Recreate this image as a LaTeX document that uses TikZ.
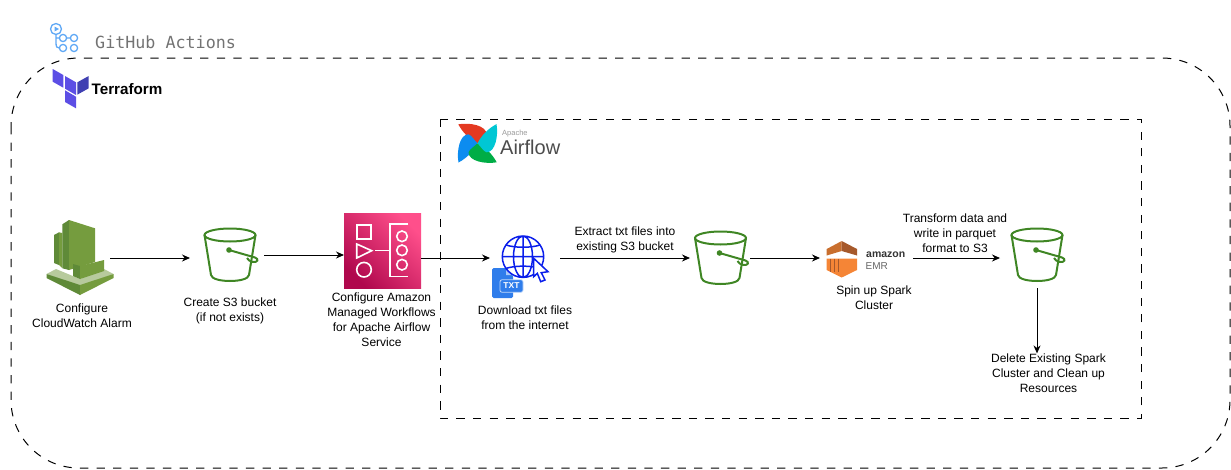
\documentclass[tikz,border=0pt]{standalone}
\usepackage{fontspec}
\setmainfont{Liberation Sans}
\newfontfamily\monofam{DejaVu Sans Mono}
\usetikzlibrary{arrows.meta,positioning,calc}

\definecolor{bucketgreen}{HTML}{3F8624}
\definecolor{globeblue}{HTML}{0A1EEB}
\definecolor{docblue}{HTML}{2F7DEB}
\definecolor{gitblue}{HTML}{5FA8F5}
\definecolor{tfpurple}{HTML}{5C4EE5}
\definecolor{tfdark}{HTML}{4040B2}
\definecolor{cwdark}{HTML}{5F8A38}
\definecolor{cwmid}{HTML}{759C3E}
\definecolor{cwlight}{HTML}{B7CA9D}
\definecolor{emrorange}{HTML}{F58536}
\definecolor{emrbrown}{HTML}{A6592B}
\definecolor{emrmid}{HTML}{C96F2E}
\definecolor{afred}{HTML}{E43921}
\definecolor{afteal}{HTML}{00C7D4}
\definecolor{afgreen}{HTML}{00AD46}
\definecolor{afblue}{HTML}{0C8CF0}
\definecolor{mwaalow}{HTML}{B0084D}
\definecolor{mwaahigh}{HTML}{FF4F8B}

\tikzset{
  flow/.style={-{Stealth[length=8pt,width=7pt]},line width=1pt},
  lbl/.style={align=center,inner sep=0pt,font=\fontsize{12}{15}\selectfont},
  iconbox/.style={inner sep=0pt,outer sep=0pt},
  region/.style={dash pattern=on 8.3pt off 8.3pt,line width=1pt},
  bucket/.pic={
    \draw[bucketgreen,line width=2pt] (0,0) ellipse [x radius=25.5,y radius=6.5];
    \draw[bucketgreen,line width=2pt] (-25.5,0) -- (-19,40) .. controls (-18,48) and (18,48) .. (19,40) -- (25.5,0);
    \fill[bucketgreen] (-1,15) circle (2.8);
    \draw[bucketgreen,line width=2pt] (-1,15) -- (25,22.5) .. controls (29,24) and (28,27.5) .. (23,27) .. controls (20,26.5) and (18,25) .. (17,23);
  }
}

\begin{document}
\begin{tikzpicture}[x=1pt,y=-1pt]
\useasboundingbox (0,0) rectangle (1231,469);

% dashed regions
\draw[region,rounded corners=68pt] (11,58) rectangle (1230,468);
\draw[region] (440,119) rectangle (1141,418);

% GitHub Actions logo
\draw[gitblue,line width=1.3pt] (56,29) circle (5.5) (63,38) circle (3.6) (74,38) circle (3.6) (63,48) circle (3.6) (74,48) circle (3.6);
\fill[gitblue] (54.5,26.5) -- (59,29) -- (54.5,31.5) -- cycle;
\draw[gitblue,line width=1.3pt] (56,34.5) -- (56,43) .. controls (56,47) and (57,48) .. (59.4,48) (56,38) -- (59.4,38) (66.6,38) -- (70.4,38);
\node[anchor=west,inner sep=0pt,text=black!55,font=\monofam\fontsize{16.7}{20}\selectfont] (ghtitle) at (95,42) {GitHub Actions};

% Terraform logo
\fill[tfpurple] (52.7,69) -- (63.3,75) -- (63.3,87.7) -- (52.7,81.7) -- cycle;
\fill[tfpurple] (65,76) -- (76,82.3) -- (76,95) -- (65,88.7) -- cycle;
\fill[tfdark] (77.3,82.3) -- (88.7,76) -- (88.7,88.3) -- (77.3,94.7) -- cycle;
\fill[tfpurple] (65,90.3) -- (76,96.7) -- (76,108.3) -- (65,102) -- cycle;
\node[anchor=west,inner sep=0pt,font=\bfseries\fontsize{15.2}{18}\selectfont] (tftitle) at (91.5,89) {Terraform};

% Airflow logo
\foreach \ang/\col in {0/afred,90/afblue,180/afgreen,270/afteal}
  \fill[\col,shift={(477.5,143.3)},rotate=\ang] (0,0) .. controls (-8,-4) and (-15,-11) .. (-19.2,-19) .. controls (-8,-21) and (9,-18) .. (9,-9) .. controls (8,-6) and (3,-3) .. (0,0);
\node[anchor=west,inner sep=0pt,text=black!40,font=\fontsize{7.5}{9}\selectfont] (aftop) at (502,134) {Apache};
\node[anchor=west,inner sep=0pt,text=black!70,font=\fontsize{20}{22}\selectfont] (aftitle) at (500,147) {Airflow};

% icon places, the connectors run between these
\node[iconbox,minimum width=64pt,minimum height=76pt] (cw) at (78,258) {};
\node[iconbox,minimum width=74pt,minimum height=60pt] (bkA) at (227,255) {};
\node[iconbox,minimum width=77pt,minimum height=75pt,shade,top color=mwaahigh,bottom color=mwaalow,shading angle=-45] (mwaa) at (382.5,250.5) {};
\node[iconbox,minimum width=70pt,minimum height=70pt] (web) at (525,258) {};
\node[iconbox,minimum width=60pt,minimum height=60pt] (bkB) at (720,258) {};
\node[iconbox,minimum width=93pt,minimum height=40pt] (emr) at (866.5,258) {};
\node[iconbox,minimum width=74pt,minimum height=60pt] (bkC) at (1037,258) {};

% CloudWatch
\fill[cwdark] (54,235) -- (59,232.3) -- (59,265) -- (54,263) -- cycle;
\fill[cwmid] (59,232.3) -- (62.3,233) -- (62.3,268) -- (59,265) -- cycle;
\fill[cwdark] (62.3,224.3) -- (69,220) -- (69,270) -- (62.3,268.3) -- cycle;
\fill[cwmid] (69,220) -- (95,228.3) -- (95,262) -- (69,270) -- cycle;
\fill[cwlight] (56,269) -- (80,279) -- (104,269) -- (113.5,274) -- (80,286) -- (46.5,274) -- cycle;
\fill[cwdark] (73,264) -- (80,266) -- (80,279) -- (73,276) -- cycle;
\fill[cwmid] (80,266) -- (104,260) -- (104,271) -- (80,279) -- cycle;
\fill[cwdark] (46.5,274) -- (80,285) -- (80,295) -- (46.5,278) -- cycle;
\fill[cwmid] (80,285) -- (113.5,274) -- (113.5,278) -- (80,295) -- cycle;

% buckets
\pic at (230,235) {bucket};
\pic at (720.5,238) {bucket};
\pic at (1037,235) {bucket};

% workflows icon
\draw[white,line width=1.6pt] (356.7,224.7) rectangle (370.7,238.7);
\draw[white,line width=1.6pt] (356.7,244) -- (356.7,258) -- (371.7,250.7) -- cycle;
\draw[white,line width=1.6pt] (364,269.7) circle (7.3);
\draw[white,line width=1.6pt] (375,250.3) -- (390,250.3) (408.3,224) -- (390,224) -- (390,276.3) -- (408.3,276.3);
\foreach \cy in {236.3,250.3,264.7}
  \draw[white,line width=1.6pt] (402,\cy) circle (5.3);

% web and txt icon
\fill[docblue,rounded corners=1.5pt] (492,268) -- (506,268) -- (513,275) -- (513,298) -- (492,298) -- cycle;
\fill[docblue!40] (506,268) -- (513,275) -- (506,275) -- cycle;
\node[draw=white!70!docblue,fill=docblue,rounded corners=2pt,inner sep=0pt,minimum width=23pt,minimum height=12.5pt,text=white,font=\bfseries\fontsize{8.5}{9}\selectfont,line width=.8pt] (txtbadge) at (511.5,286) {TXT};
\draw[globeblue,line width=1.5pt] (523,256.7) circle (20.7) (523,256.7) ellipse [x radius=9.5,y radius=20.7] (523,236) -- (523,277.4) (502.3,256.7) -- (543.7,256.7);
\draw[globeblue,line width=1.5pt] (506,245) .. controls (515,248) and (531,248) .. (540,245) (506,268.4) .. controls (515,265.4) and (531,265.4) .. (540,268.4);
\draw[globeblue,line width=1.5pt,fill=white] (533.7,258.3) -- (548,271.7) -- (541.3,272.7) -- (545,280) -- (540.7,281.7) -- (537.3,273.3) -- (533.7,276.7) -- cycle;

% EMR icon
\fill[emrmid] (826.7,249) -- (841.7,241) -- (841.7,251) -- (826.7,255.5) -- cycle;
\fill[emrbrown] (841.7,241) -- (857,249) -- (857,255.5) -- (841.7,251) -- cycle;
\fill[emrorange] (826.7,258.5) -- (857,258.5) -- (857,270) -- (841.7,277.5) -- (826.7,270) -- cycle;
\foreach \sx in {830.5,834.5,838.5}
  \draw[emrbrown,line width=.8pt] (\sx,258.5) -- (\sx,272);
\node[anchor=west,inner sep=0pt,text=black!80,font=\bfseries\fontsize{10.5}{12}\selectfont] (emrtop) at (866,254.5) {amazon};
\node[anchor=west,inner sep=0pt,text=black!60,font=\fontsize{10}{12}\selectfont] (emrname) at (865.5,266) {EMR};

% labels
\node[lbl] (cwtext) at (82,315.5) {Configure\\CloudWatch Alarm};
\node[lbl] (bkAtext) at (230,310.5) {Create S3 bucket\\(if not exists)};
\node[lbl] (mwaatext) at (381.5,320) {Configure Amazon\\Managed Workflows\\for Apache Airflow\\Service};
\node[lbl] (webtext) at (525,318) {Download txt files\\from the internet};
\node[lbl] (extract) at (625,240) {Extract txt files into\\existing S3 bucket};
\node[lbl] (emrtext) at (874,298) {Spin up Spark\\Cluster};
\node[lbl] (transform) at (955,233) {Transform data and\\write in parquet\\format to S3};
\node[lbl] (deltext) at (1048.5,373) {Delete Existing Spark\\Cluster and Clean up\\Resources};

% connectors
\draw[flow] (cw.east) -- (bkA.west |- cw.east);
\draw[flow] (bkA.east) -- (mwaa.west |- bkA.east);
\draw[flow] (mwaa.east |- web.west) -- (web.west);
\draw[flow] (web.east) -- (bkB.west);
\draw[flow] (bkB.east) -- (emr.west);
\draw[flow] (emr.east) -- (bkC.west);
\draw[flow] (bkC.south) -- (bkC.south |- deltext.north);
\end{tikzpicture}
\end{document}
